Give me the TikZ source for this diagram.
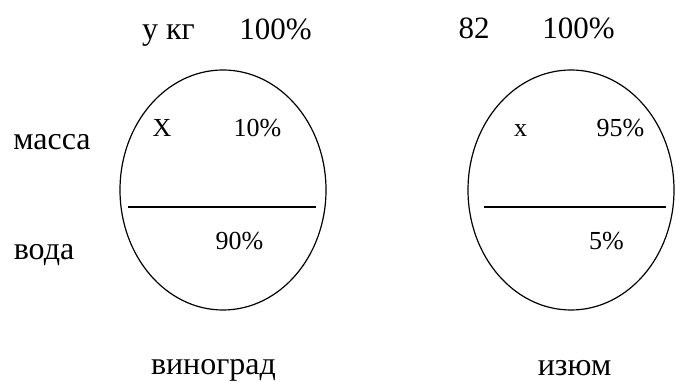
\documentclass[tikz,border=0pt]{standalone}
\usepackage{fontspec}
\setmainfont{Liberation Serif}
\usepackage{tikz}
\usetikzlibrary{shapes.geometric, positioning}

\begin{document}
\begin{tikzpicture}[
    x=1pt, y=1pt,
    fruit/.style={ellipse, draw, line width=1.2pt, minimum width=206pt, minimum height=240pt, inner sep=0pt},
    chord/.style={line width=1.4pt},
    big/.style={anchor=base, inner sep=0pt, font=\fontsize{31}{34}\selectfont},
    small/.style={anchor=base, inner sep=0pt, font=\fontsize{26}{29}\selectfont},
    word/.style={anchor=base, inner sep=0pt, font=\fontsize{32}{36}\selectfont}
]
\useasboundingbox (0,0) rectangle (676,382);

% Left ellipse - grapes
\node[fruit] (grape) at (223,192) {};
\coordinate (gl) at (128,175);
\coordinate (gr) at (316,175);
\draw[chord] (gl) -- (gr);

% Right ellipse - raisins
\node[fruit] (raisin) at (571,192) {};
\coordinate (rl) at (484,175);
\coordinate (rr) at (666,175);
\draw[chord] (rl) -- (rr);

% Top labels
\node[word] (ykg) at (168.5,342) {у кг};
\node[big] (gfull) at (275.5,342) {100\%};
\node[big] (n82) at (474,343) {82};
\node[big] (rfull) at (578.5,343) {100\%};

% Row labels
\node[word] (mass) at (52,232) {масса};
\node[word] (water) at (44,122) {вода};

% Inside the ellipses
\node[small] (gx) at (162,245) {X};
\node[small] (gdry) at (257.5,245) {10\%};
\node[small] (gwet) at (239.5,132) {90\%};
\node[small] (rx) at (520.5,245) {x};
\node[small] (rdry) at (620.5,245) {95\%};
\node[small] (rwet) at (606.5,132) {5\%};

% Names below
\node[word] (gname) at (213.5,7) {виноград};
\node[word] (rname) at (574.5,6) {изюм};

\end{tikzpicture}
\end{document}
